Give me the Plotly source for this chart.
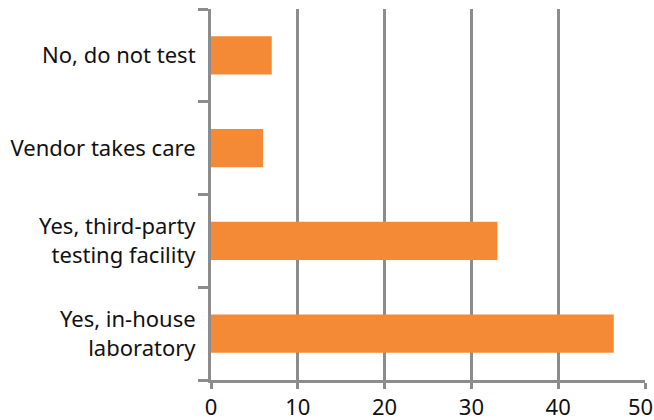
import plotly.graph_objects as go

# Survey responses, listed bottom to top
categories = [
    "Yes, in-house<br>laboratory",
    "Yes, third-party<br>testing facility",
    "Vendor takes care",
    "No, do not test",
]
values = [46.4, 33, 6, 7]
x_ticks = [0, 10, 20, 30, 40, 50]

axis_gray = "#8C8C8C"
bar_orange = "#F58A36"
font_family = "Noto Sans, Open Sans, sans-serif"
text_color = "#111111"
font_size = 22

fig = go.Figure(
    go.Bar(
        x=values,
        y=categories,
        orientation="h",
        marker=dict(color=bar_orange, line=dict(width=0)),
        width=0.41,
    )
)

fig.update_layout(
    width=654,
    height=420,
    margin=dict(l=211, r=9, t=9, b=40),
    paper_bgcolor="white",
    plot_bgcolor="white",
    showlegend=False,
    font=dict(family=font_family, size=font_size, color=text_color),
)

# The last tick label sits at the right edge, so it is nudged inward
# as an annotation instead of a regular tick label.
last_tick = x_ticks[-1]
fig.update_xaxes(
    range=[x_ticks[0], last_tick],
    tickvals=x_ticks,
    ticktext=[str(v) for v in x_ticks[:-1]] + [""],
    automargin=False,
    showgrid=True,
    gridcolor=axis_gray,
    gridwidth=3,
    zeroline=False,
    showline=True,
    linecolor=axis_gray,
    linewidth=3,
    ticks="outside",
    ticklen=6,
    tickwidth=3,
    tickcolor=axis_gray,
    tickfont=dict(size=font_size, color=text_color),
)
fig.add_annotation(
    x=last_tick,
    xref="x",
    y=0,
    yref="paper",
    yanchor="top",
    xanchor="center",
    xshift=-5,
    yshift=-9,
    text=str(last_tick),
    showarrow=False,
    font=dict(size=font_size, color=text_color),
)

fig.update_yaxes(
    categoryorder="array",
    categoryarray=categories,
    automargin=False,
    showgrid=False,
    zeroline=False,
    showline=True,
    linecolor=axis_gray,
    linewidth=3,
    ticks="outside",
    tickson="boundaries",
    ticklen=10,
    tickwidth=3,
    tickcolor=axis_gray,
    ticklabelstandoff=8,
    tickfont=dict(size=font_size, color=text_color),
)

fig.write_html("out.html")
